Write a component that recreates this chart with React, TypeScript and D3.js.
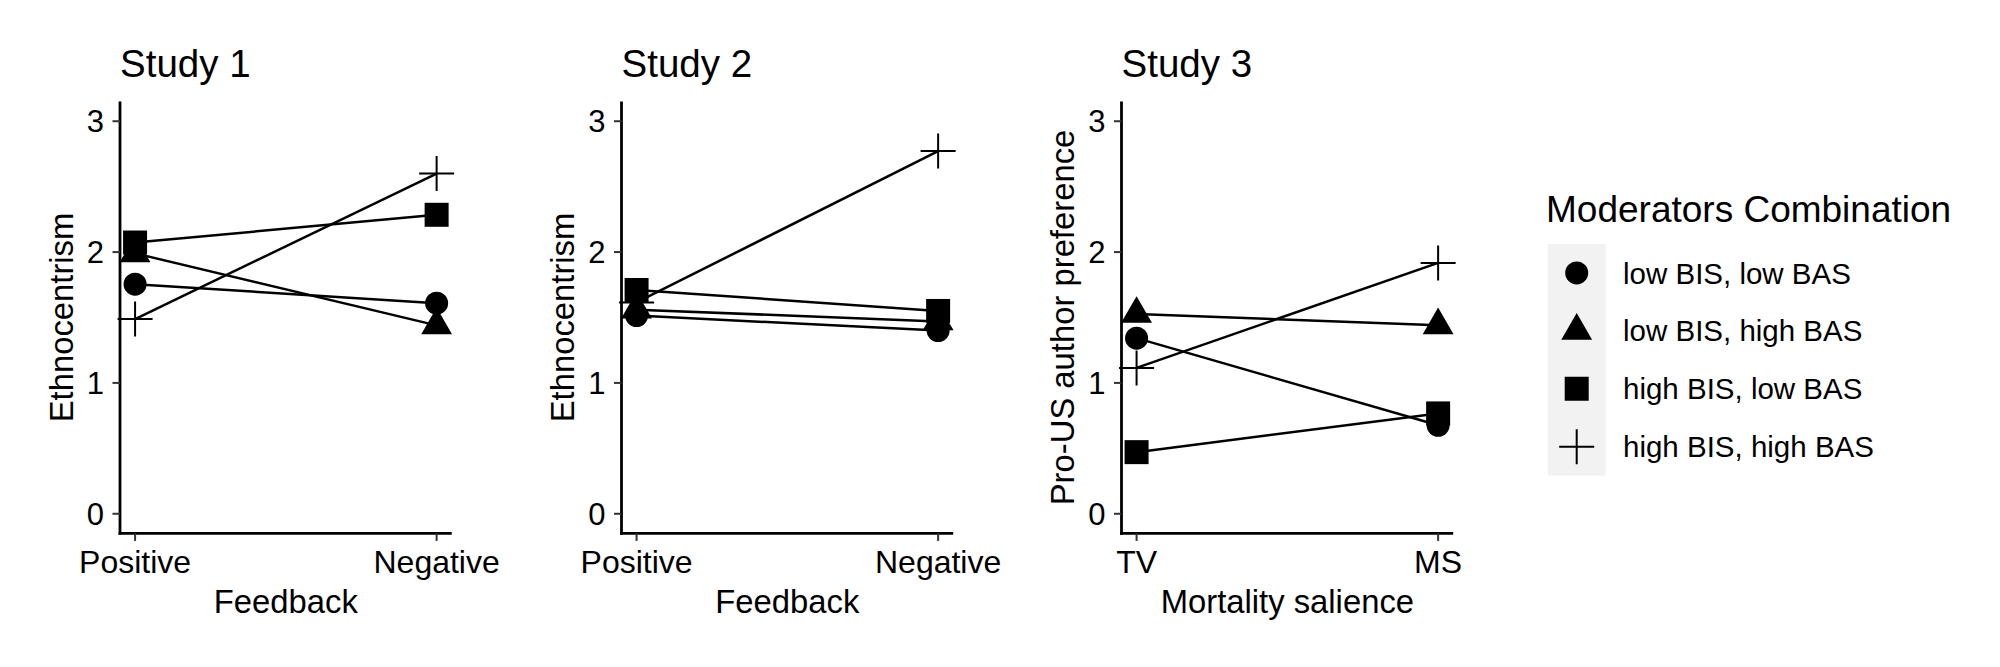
import React from "react";
import * as d3 from "d3";

// ---- data ----
const groupLabels = ["low BIS, low BAS", "low BIS, high BAS", "high BIS, low BAS", "high BIS, high BAS"];
const groupShapes = ["circle", "triangle", "square", "plus"];

const studyTitles = ["Study 1", "Study 2", "Study 3"];
const yTitles = ["Ethnocentrism", "Ethnocentrism", "Pro-US author preference"];
const xTitles = ["Feedback", "Feedback", "Mortality salience"];
const study1XLabels = ["Positive", "Negative"];
const study2XLabels = ["Positive", "Negative"];
const study3XLabels = ["TV", "MS"];
const yTickValues = [0, 1, 2, 3];

// values per group (order of groupLabels), [first condition, second condition]
const study1Values = [
  [1.755, 1.609],
  [1.99, 1.44],
  [2.073, 2.285],
  [1.488, 2.6],
];
const study2Values = [
  [1.515, 1.40],
  [1.56, 1.47],
  [1.71, 1.55],
  [1.615, 2.772],
];
const study3Values = [
  [1.342, 0.676],
  [1.527, 1.44],
  [0.471, 0.767],
  [1.115, 1.917],
];

const FONT = "'Liberation Sans', Arial, Helvetica, sans-serif";

const panelLefts = [120, 621.5, 1121.5];
const panelWidth = 331.7;
const panelTop = 101.6;
const panelBottom = 533.4;

const yScale = d3.scaleLinear().domain([-0.15, 3.15]).range([panelBottom, panelTop]);

function shapePath(shape: string, cx: number, cy: number): { d: string; fill: boolean } {
  if (shape === "circle") {
    const p = d3.path();
    p.arc(cx, cy, 11.5, 0, Math.PI * 2);
    return { d: p.toString(), fill: true };
  }
  if (shape === "square") {
    const s = 12;
    return { d: `M${cx - s},${cy - s}H${cx + s}V${cy + s}H${cx - s}Z`, fill: true };
  }
  if (shape === "triangle") {
    const r = 17.8;
    const hx = (r * Math.sqrt(3)) / 2;
    return { d: `M${cx},${cy - r}L${cx + hx},${cy + r / 2}L${cx - hx},${cy + r / 2}Z`, fill: true };
  }
  const h = 17.5;
  return { d: `M${cx - h},${cy}H${cx + h}M${cx},${cy - h}V${cy + h}`, fill: false };
}

function Panel({ idx, values, xLabels }: { idx: number; values: number[][]; xLabels: string[] }) {
  const left = panelLefts[idx];
  const xScale = d3.scaleLinear().domain([0.95, 2.05]).range([left, left + panelWidth]);
  const line = d3
    .line<number>()
    .x((_, i) => xScale(i + 1))
    .y((v) => yScale(v));
  const midY = (panelTop + panelBottom) / 2;
  const midX = left + panelWidth / 2;
  return (
    <g>
      <text x={left} y={76.7} fontSize={38.5} fontFamily={FONT} fill="#000">
        {studyTitles[idx]}
      </text>
      {/* axes */}
      <line x1={left} x2={left} y1={panelTop} y2={panelBottom + 1.4} stroke="#000" strokeWidth={2.8} />
      <line x1={left - 1.4} x2={left + panelWidth} y1={panelBottom} y2={panelBottom} stroke="#000" strokeWidth={2.8} />
      {yTickValues.map((t) => (
        <g key={t}>
          <line x1={left - 7.5} x2={left} y1={yScale(t)} y2={yScale(t)} stroke="#333" strokeWidth={2} />
          <text
            x={left - 16}
            y={yScale(t)}
            dy="0.36em"
            textAnchor="end"
            fontSize={31}
            fontFamily={FONT}
            fill="#000"
          >
            {t}
          </text>
        </g>
      ))}
      {xLabels.map((lab, i) => (
        <g key={lab}>
          <line
            x1={xScale(i + 1)}
            x2={xScale(i + 1)}
            y1={panelBottom}
            y2={panelBottom + 7.5}
            stroke="#333"
            strokeWidth={2}
          />
          <text x={xScale(i + 1)} y={573.3} textAnchor="middle" fontSize={32} fontFamily={FONT} fill="#000">
            {lab}
          </text>
        </g>
      ))}
      <text x={midX} y={612.7} textAnchor="middle" fontSize={32.8} fontFamily={FONT} fill="#000">
        {xTitles[idx]}
      </text>
      <text
        transform={`translate(${left - 47.3},${midY}) rotate(-90)`}
        textAnchor="middle"
        fontSize={32.8}
        fontFamily={FONT}
        fill="#000"
      >
        {yTitles[idx]}
      </text>
      {/* lines */}
      {values.map((vals, g) => (
        <path key={"l" + g} d={line(vals) || ""} fill="none" stroke="#000" strokeWidth={2.5} />
      ))}
      {/* points */}
      {values.map((vals, g) =>
        vals.map((v, i) => {
          const s = shapePath(groupShapes[g], xScale(i + 1), yScale(v));
          return (
            <path
              key={"p" + g + "-" + i}
              d={s.d}
              fill={s.fill ? "#000" : "none"}
              stroke={s.fill ? "none" : "#000"}
              strokeWidth={s.fill ? 0 : 2}
            />
          );
        })
      )}
    </g>
  );
}

function Legend() {
  const keyX = 1547.7;
  const keyW = 58;
  const keyTop = 244;
  const keyH = 57.9;
  return (
    <g>
      <text x={1546} y={221.7} fontSize={37} fontFamily={FONT} fill="#000">
        Moderators Combination
      </text>
      <rect x={keyX} y={keyTop} width={keyW} height={keyH * groupLabels.length} fill="#F2F2F2" />
      {groupLabels.map((lab, g) => {
        const cy = keyTop + keyH * (g + 0.5);
        const s = shapePath(groupShapes[g], keyX + keyW / 2, cy);
        return (
          <g key={lab}>
            <path
              d={s.d}
              fill={s.fill ? "#000" : "none"}
              stroke={s.fill ? "none" : "#000"}
              strokeWidth={s.fill ? 0 : 2}
            />
            <text x={1623} y={cy} dy="0.36em" fontSize={29.5} fontFamily={FONT} fill="#000">
              {lab}
            </text>
          </g>
        );
      })}
    </g>
  );
}

export default function App() {
  return (
    <svg
      width={2000}
      height={667}
      style={{ position: "absolute", left: 0, top: 0, display: "block", background: "#fff" }}
    >
      <rect x={0} y={0} width={2000} height={667} fill="#fff" />
      <Panel idx={0} values={study1Values} xLabels={study1XLabels} />
      <Panel idx={1} values={study2Values} xLabels={study2XLabels} />
      <Panel idx={2} values={study3Values} xLabels={study3XLabels} />
      <Legend />
    </svg>
  );
}
